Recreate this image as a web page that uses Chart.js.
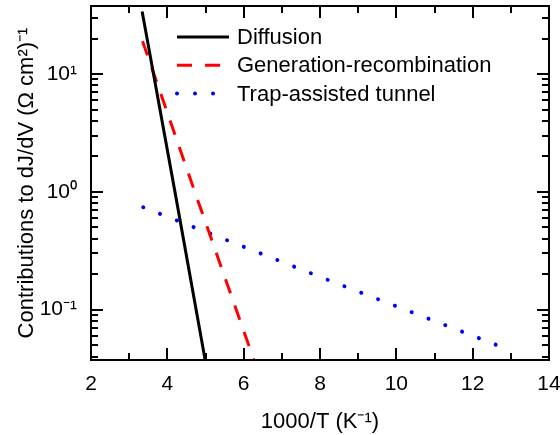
<!DOCTYPE html>
<html>
<head>
<meta charset="utf-8">
<script src="https://cdn.jsdelivr.net/npm/chart.js@4/dist/chart.umd.min.js"></script>
<style>
  html, body { margin: 0; padding: 0; background: #fff; }
  #wrap { width: 560px; height: 435px; position: relative; }
</style>
</head>
<body>
<div id="wrap"><canvas id="chart"></canvas></div>
<script>
// values (x = 1000/T in 1/K)
const seriesLabels = ['Diffusion', 'Generation-recombination', 'Trap-assisted tunnel'];

const diffusionX = [3.34, 4.2, 5.0];
const diffusionY = [34, 1.0, 0.036];

const genRecX = [3.35, 4.72, 6.3];
const genRecY = [19, 1.0, 0.035];

const trapX = [3.37, 8.0, 12.85];
const trapY = [0.74, 0.19, 0.047];

const xTicks = [2, 4, 6, 8, 10, 12, 14];
const yTicks = [0.1, 1, 10];
const yTickLabels = ['10\u207B\u00B9', '10\u2070', '10\u00B9'];

const FONT = '"Liberation Sans", Arial, sans-serif';

function pts(xs, ys) {
  return xs.map((x, i) => ({ x, y: ys[i] }));
}

// don't let tick labels push the plot area around
function noPad(s) {
  s.paddingTop = s.paddingBottom = s.paddingLeft = s.paddingRight = 0;
}

// box frame with inward ticks on all four sides
const frameTicks = {
  id: 'frameTicks',
  afterDatasetsDraw(chart) {
    const { ctx, chartArea: a, scales: { x, y } } = chart;
    ctx.save();
    ctx.strokeStyle = '#000';
    ctx.lineWidth = 2;
    ctx.lineCap = 'butt';
    ctx.strokeRect(a.left, a.top, a.right - a.left, a.bottom - a.top);

    ctx.beginPath();
    for (let v = x.min; v <= x.max; v++) {
      const px = Math.round(x.getPixelForValue(v));
      const len = v % 2 === 0 ? 12 : 7;
      ctx.moveTo(px, a.bottom); ctx.lineTo(px, a.bottom - len);
      ctx.moveTo(px, a.top); ctx.lineTo(px, a.top + len);
    }
    for (let d = -2; d <= 1; d++) {
      for (let m = 1; m <= 9; m++) {
        const v = m * Math.pow(10, d);
        if (v < y.min || v > y.max) continue;
        const py = Math.round(y.getPixelForValue(v));
        const len = m === 1 ? 12 : 7;
        ctx.moveTo(a.left, py); ctx.lineTo(a.left + len, py);
        ctx.moveTo(a.right, py); ctx.lineTo(a.right - len, py);
      }
    }
    ctx.stroke();
    ctx.restore();
  }
};

// legend inside the plot, top right
const insideLegend = {
  id: 'insideLegend',
  afterDatasetsDraw(chart) {
    const { ctx } = chart;
    ctx.save();
    chart.data.datasets.forEach((ds, i) => {
      const yy = 37 + i * 28.3;
      ctx.beginPath();
      ctx.strokeStyle = ds.borderColor;
      ctx.lineWidth = ds.borderWidth;
      ctx.lineCap = ds.borderCapStyle || 'butt';
      ctx.setLineDash(ds.borderDash || []);
      ctx.moveTo(177, yy);
      ctx.lineTo(229, yy);
      ctx.stroke();
      ctx.setLineDash([]);
      ctx.fillStyle = '#000';
      ctx.font = '22px ' + FONT;
      ctx.textBaseline = 'middle';
      ctx.fillText(ds.label, 237, yy + 1);
    });
    ctx.restore();
  }
};

new Chart(document.getElementById('chart'), {
  type: 'line',
  data: {
    datasets: [
      {
        label: seriesLabels[0],
        data: pts(diffusionX, diffusionY),
        borderColor: '#000000',
        borderWidth: 3,
        pointRadius: 0
      },
      {
        label: seriesLabels[1],
        data: pts(genRecX, genRecY),
        borderColor: '#ff0000',
        borderWidth: 3,
        borderDash: [15, 13],
        pointRadius: 0
      },
      {
        label: seriesLabels[2],
        data: pts(trapX, trapY),
        borderColor: '#0000ff',
        borderWidth: 4,
        borderDash: [0.01, 18],
        borderCapStyle: 'round',
        pointRadius: 0
      }
    ]
  },
  options: {
    responsive: true,
    maintainAspectRatio: false,
    animation: false,
    layout: { autoPadding: false, padding: { top: 6, right: 11, left: 0, bottom: 0 } },
    plugins: {
      legend: { display: false },
      tooltip: { enabled: false }
    },
    scales: {
      x: {
        type: 'linear',
        min: 2,
        max: 14,
        grid: { display: false, drawTicks: false },
        border: { display: false },
        afterBuildTicks: s => { s.ticks = xTicks.map(v => ({ value: v })); },
        afterFit: s => { s.height = 75; noPad(s); },
        ticks: {
          color: '#000',
          padding: 12,
          maxRotation: 0,
          font: { family: FONT, size: 21 }
        },
        title: {
          display: true,
          text: '1000/T (K\u207B\u00B9)',
          color: '#000',
          font: { family: FONT, size: 22 },
          padding: { top: 0, bottom: 0 }
        }
      },
      y: {
        type: 'logarithmic',
        min: 0.0374,
        max: 37.8,
        grid: { display: false, drawTicks: false },
        border: { display: false },
        afterBuildTicks: s => { s.ticks = yTicks.map(v => ({ value: v })); },
        afterFit: s => { s.width = 91; noPad(s); },
        ticks: {
          color: '#000',
          padding: 14,
          font: { family: FONT, size: 21 },
          callback: (v) => {
            const i = yTicks.indexOf(v);
            return i >= 0 ? yTickLabels[i] : '';
          }
        },
        title: {
          display: true,
          text: 'Contributions to dJ/dV (\u03A9 cm\u00B2)\u207B\u00B9',
          color: '#000',
          font: { family: FONT, size: 22 },
          padding: { top: 14, bottom: 0 }
        }
      }
    }
  },
  plugins: [frameTicks, insideLegend]
});
</script>
</body>
</html>
